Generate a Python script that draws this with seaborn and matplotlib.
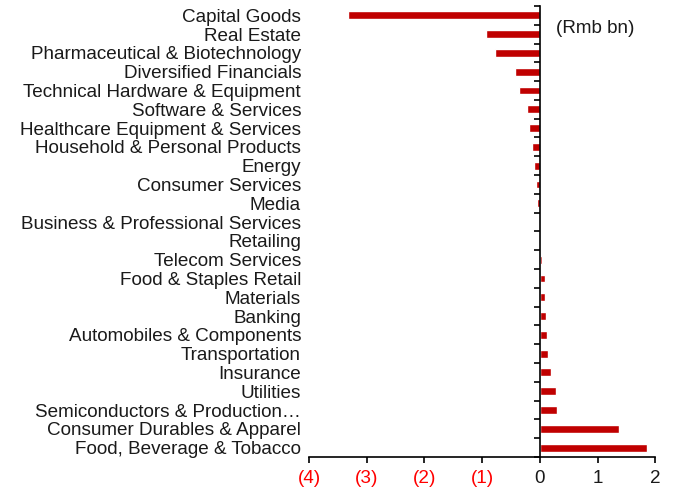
import matplotlib
matplotlib.use("Agg")
import matplotlib.pyplot as plt
from matplotlib.ticker import FixedLocator
import pandas as pd
import seaborn as sns

# Sector flows (Rmb bn), top to bottom as shown
sectors = [
    "Capital Goods", "Real Estate", "Pharmaceutical & Biotechnology",
    "Diversified Financials", "Technical Hardware & Equipment",
    "Software & Services", "Healthcare Equipment & Services",
    "Household & Personal Products", "Energy", "Consumer Services", "Media",
    "Business & Professional Services", "Retailing", "Telecom Services",
    "Food & Staples Retail", "Materials", "Banking",
    "Automobiles & Components", "Transportation", "Insurance", "Utilities",
    "Semiconductors & Production\u2026", "Consumer Durables & Apparel",
    "Food, Beverage & Tobacco",
]
flows = [
    -3.32, -0.94, -0.78, -0.43, -0.37, -0.23, -0.19, -0.13, -0.11, -0.07,
    -0.05, -0.01, 0.0, 0.03, 0.08, 0.08, 0.10, 0.12, 0.14, 0.20, 0.28,
    0.30, 1.37, 1.86,
]
xticks = [-4, -3, -2, -1, 0, 1, 2]
xtick_labels = ["(4)", "(3)", "(2)", "(1)", "0", "1", "2"]

df = pd.DataFrame({"sector": sectors, "flow": flows})

sns.set_style("white")
plt.rcParams["font.family"] = ["Liberation Sans", "DejaVu Sans"]

TEXT = "#1a1a1a"
FS = 13.6
fig = plt.figure(figsize=(6.87, 4.93), dpi=100)
ax = fig.add_axes([0.4498, 0.073, 0.5042, 0.915])

sns.barplot(data=df, x="flow", y="sector", orient="h", color="#C00000",
            saturation=1, width=0.42, ax=ax)

n = len(sectors)
ax.set_xlim(-4, 2)
ax.set_ylim(n - 0.5, -0.5)
ax.set_xlabel("")
ax.set_ylabel("")

for side in ["top", "right"]:
    ax.spines[side].set_visible(False)
ax.spines["left"].set_position(("data", 0))
for side in ["left", "bottom"]:
    ax.spines[side].set_color("black")
    ax.spines[side].set_linewidth(1.2)

# category labels sit at the left edge, tick marks between bars on the zero line
ax.yaxis.set_minor_locator(FixedLocator([i - 0.5 for i in range(n + 1)]))
ax.tick_params(axis="y", which="major", length=0, pad=172, labelsize=FS,
               labelcolor=TEXT)
ax.tick_params(axis="y", which="minor", left=True, length=4.3, width=1.2,
               color="black", direction="out")

ax.set_xticks(xticks)
ax.set_xticklabels(xtick_labels)
ax.tick_params(axis="x", which="major", bottom=True, length=4, width=1.2,
               color="black", labelsize=FS, pad=5)
for lbl, v in zip(ax.get_xticklabels(), xticks):
    lbl.set_color("#FF0000" if v < 0 else TEXT)

ax.text(0.27, 0.68, "(Rmb bn)", ha="left", va="center", fontsize=FS,
        color=TEXT)

fig.savefig("out.png", dpi=100)
